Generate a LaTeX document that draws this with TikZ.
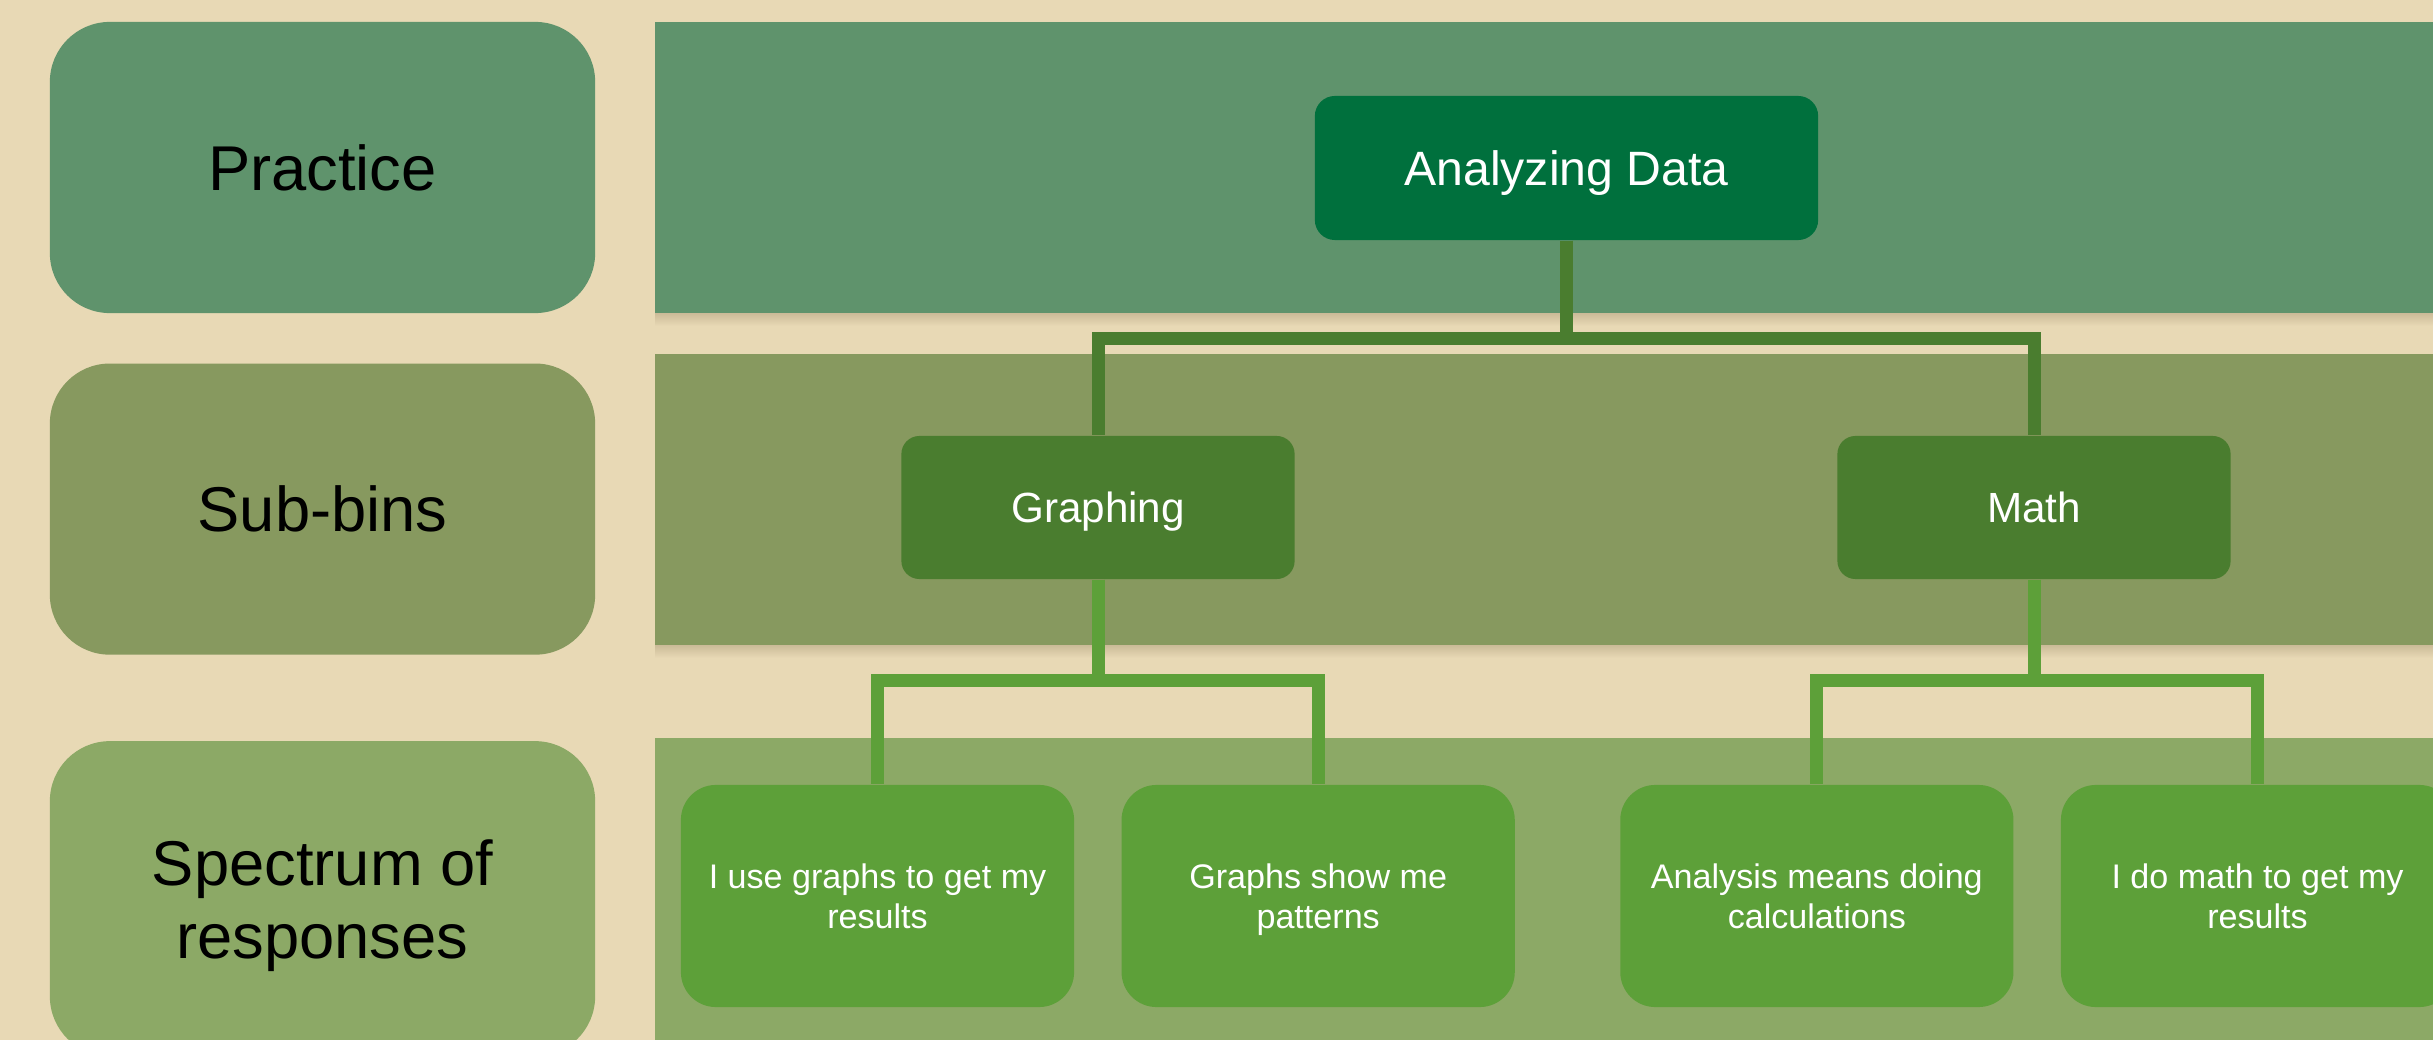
\documentclass[tikz,border=0pt]{standalone}
\usepackage{fontspec}
\setmainfont{Liberation Sans}
\usetikzlibrary{positioning}
\definecolor{sand}{HTML}{E8D9B5}
\definecolor{sandshade}{HTML}{CBBB98}
\definecolor{rowA}{HTML}{5F936C}
\definecolor{rowB}{HTML}{87995F}
\definecolor{rowC}{HTML}{8CA966}
\definecolor{deep}{HTML}{00703D}
\definecolor{moss}{HTML}{4A7D2F}
\definecolor{leaf}{HTML}{5DA039}

\begin{document}
\begin{tikzpicture}[x=0.01cm,y=-0.01cm,
  oneline/.style={text height=#1,text depth=0pt},
  lbl/.style={fill=#1,rounded corners=6mm,inner sep=0pt,align=center,
              minimum width=5.45cm,minimum height=2.91cm,
              font=\fontsize{18}{20.7}\selectfont},
  topbox/.style={oneline=9.8pt,fill=deep,text=white,rounded corners=2mm,inner sep=0pt,
              minimum width=5.03cm,minimum height=1.44cm,font=\fontsize{13.7}{16}\selectfont},
  midbox/.style={oneline=8.6pt,fill=moss,text=white,rounded corners=1.8mm,inner sep=0pt,
              minimum width=3.93cm,minimum height=1.43cm,font=\fontsize{12}{14}\selectfont},
  resp/.style={fill=leaf,text=white,rounded corners=3.5mm,inner sep=0pt,align=center,text depth=0pt,
              minimum width=3.93cm,minimum height=2.22cm,font=\fontsize{9.7}{11.3}\selectfont},
  hi/.style={draw=moss,line width=0.13cm},
  lo/.style={draw=leaf,line width=0.13cm}]
\fill[sand] (0,0) rectangle (2433,1040);
\clip (0,0) rectangle (2433,1040);
% row bands, with a soft edge below
\shade[top color=sandshade,bottom color=sand] (655,313) rectangle (2433,326);
\shade[top color=sandshade,bottom color=sand] (655,645) rectangle (2433,658);
\fill[rowA] (655,22) rectangle (2433,313);
\fill[rowB] (655,354) rectangle (2433,645);
\fill[rowC] (655,738) rectangle (2433,1040);
% row labels
\node[lbl=rowA,oneline=12.9pt] (prac) at (322.5,167.5) {Practice};
\node[lbl=rowB,oneline=12.9pt,below=4.9mm of prac] (sub) {Sub-bins};
\node[lbl=rowC,text depth=0pt,minimum height=3.15cm,below=8.5mm of sub] (spec) {Spectrum of\\responses};
% tree
\node[topbox] (ad) at (1566.5,168) {Analyzing Data};
\node[midbox] (graph) at (1098,507.5) {Graphing};
\node[midbox] (math) at (2034,507.5) {Math};
\node[resp] (r1) at (877.5,896) {I use graphs to get my\\results};
\node[resp,right=4.6mm of r1] (r2) {Graphs show me\\patterns};
\node[resp,right=10.4mm of r2] (r3) {Analysis means doing\\calculations};
\node[resp,right=4.6mm of r3] (r4) {I do math to get my\\results};
\draw[hi] (ad.south) -- ++(0,98) -| (graph.north);
\draw[hi] (ad.south) -- ++(0,98) -| (math.north);
\draw[lo] (graph.south) -- ++(0,101) -| (r1.north);
\draw[lo] (graph.south) -- ++(0,101) -| (r2.north);
\draw[lo] (math.south) -- ++(0,101) -| (r3.north);
\draw[lo] (math.south) -- ++(0,101) -| (r4.north);
\end{tikzpicture}
\end{document}
